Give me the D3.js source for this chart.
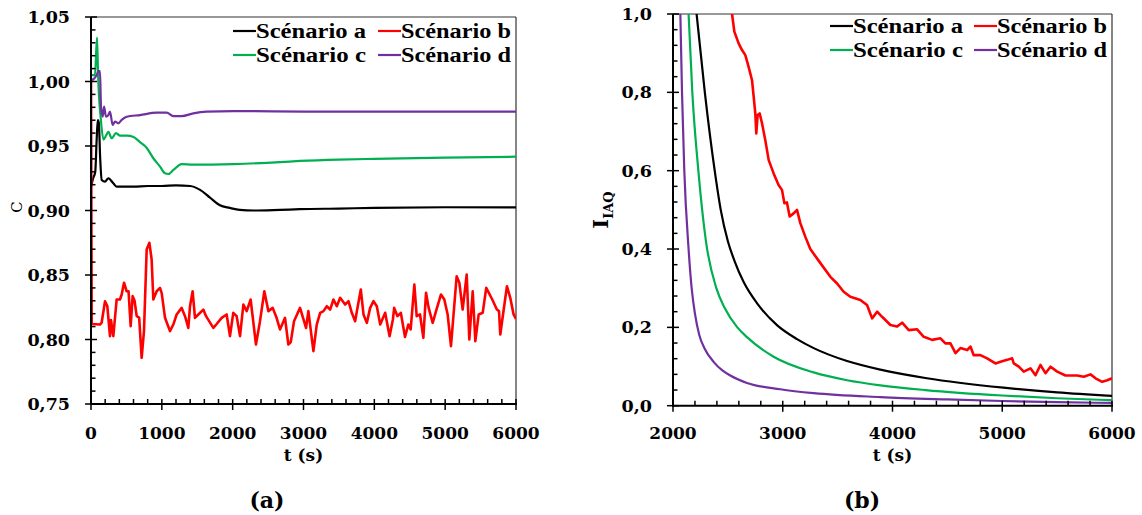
<!DOCTYPE html>
<html><head><meta charset="utf-8">
<script src="https://cdn.jsdelivr.net/npm/d3@7"></script>
<style>body{margin:0;background:#fff}svg{display:block}</style>
</head><body>
<svg id="chart" width="1142" height="515"></svg>
<script>
// ---------- DATA ----------
const seriesNames = ["Scénario a", "Scénario b", "Scénario c", "Scénario d"];
const seriesColors = ["#000000", "#ff0000", "#00b050", "#7030a0"];

// Panel (a): C vs t
const timeA = [0,30,60,80,95,110,130,151,198,245,315,362,400,600,800,1000,1200,1400,1540,1680,1820,1960,2100,2300,2670,2950,3500,4000,5000,6000];
const cA    = [0.918,0.925,0.930,0.955,0.970,0.968,0.940,0.9237,0.9224,0.925,0.9211,0.9185,0.9185,0.9185,0.919,0.919,0.9195,0.919,0.916,0.910,0.904,0.902,0.9005,0.900,0.9005,0.901,0.9015,0.902,0.9025,0.9025];

const timeB = [0,10,127,150,198,230,268,282,315,362,409,433,466,503,530,560,588,615,645,680,715,748,786,824,856,880,927,974,998,1045,1115,1162,1209,1280,1327,1374,1398,1435,1468,1515,1586,1624,1727,1774,1845,1915,1962,2009,2056,2104,2151,2198,2254,2329,2386,2447,2504,2565,2620,2668,2739,2786,2820,2866,2951,3036,3069,3140,3187,3235,3282,3329,3376,3423,3470,3517,3588,3635,3682,3729,3762,3809,3847,3894,3941,3988,4035,4083,4153,4215,4262,4280,4327,4374,4433,4480,4513,4565,4598,4645,4692,4730,4767,4824,4871,4941,4988,5035,5082,5162,5200,5247,5304,5341,5389,5426,5473,5530,5580,5665,5730,5760,5778,5872,5919,5966,6000];
const cB    = [1.0,0.812,0.8116,0.813,0.8297,0.826,0.8026,0.815,0.8026,0.831,0.831,0.8349,0.844,0.8374,0.8374,0.8103,0.8336,0.830,0.8181,0.817,0.7858,0.8065,0.8697,0.875,0.862,0.831,0.8374,0.840,0.836,0.8168,0.8065,0.8116,0.8194,0.8245,0.8181,0.809,0.826,0.8374,0.8168,0.8194,0.8232,0.8181,0.809,0.812,0.8168,0.8194,0.8026,0.8207,0.8181,0.8026,0.8271,0.822,0.831,0.7961,0.8142,0.8374,0.822,0.8245,0.8168,0.8078,0.8168,0.7961,0.798,0.8142,0.8245,0.809,0.822,0.791,0.8116,0.8207,0.822,0.8258,0.8232,0.831,0.8258,0.8323,0.8271,0.8297,0.8207,0.8142,0.8245,0.8388,0.8194,0.8129,0.8245,0.8297,0.8258,0.8116,0.8207,0.8026,0.8155,0.8245,0.8181,0.8207,0.802,0.8116,0.8078,0.8426,0.8181,0.8194,0.8013,0.8362,0.8245,0.8129,0.822,0.8349,0.831,0.8194,0.7948,0.849,0.844,0.8232,0.8504,0.800,0.8374,0.7987,0.8194,0.8207,0.840,0.831,0.8232,0.822,0.8039,0.8413,0.8323,0.8194,0.816];

const timeC = [0,56,85,100,140,175,212,245,292,353,410,505,600,692,787,880,975,1045,1092,1163,1280,1445,2010,2670,2950,3500,4000,5000,6000];
const cC    = [1.005,1.005,1.034,1.005,0.970,0.955,0.958,0.961,0.956,0.960,0.958,0.958,0.957,0.953,0.9485,0.9405,0.934,0.9288,0.9283,0.9314,0.936,0.9355,0.936,0.9375,0.9384,0.9395,0.940,0.941,0.9417];

const timeD = [0,40,80,105,127,141,165,184,212,245,268,306,339,386,433,504,692,927,1068,1162,1280,1444,1633,2009,3000,4000,5000,6000];
const cD    = [1.001,1.002,1.005,1.008,1.008,0.9805,0.9727,0.9805,0.9727,0.974,0.9766,0.9663,0.9689,0.9676,0.9702,0.9727,0.974,0.9758,0.9758,0.9732,0.9732,0.9753,0.9766,0.9771,0.9767,0.9766,0.9766,0.9766];

// Panel (b): I_IAQ vs t
const iTimeA = [2215,2290,2380,2435,2500,2560,2645,2770,2950,3130,3282,3586,3890,4313,5011,5500,6000];
const iqA    = [1.0,0.8,0.6,0.5,0.42,0.37,0.315,0.26,0.205,0.17,0.147,0.114,0.092,0.07,0.046,0.034,0.025];

const iTimeB = [2538,2559,2598,2629,2659,2689,2720,2735,2750,2759,2771,2790,2811,2841,2872,2917,2963,2993,3015,3038,3063,3099,3130,3160,3206,3251,3343,3434,3495,3555,3616,3707,3768,3814,3860,3905,3981,4042,4088,4148,4224,4285,4361,4437,4482,4528,4574,4619,4680,4710,4740,4801,4862,4938,4984,5045,5090,5105,5151,5196,5257,5303,5348,5394,5440,5501,5576,5683,5743,5804,5850,5911,5957,6000];
const iqB    = [1.0,0.955,0.925,0.908,0.895,0.865,0.831,0.789,0.746,0.695,0.742,0.746,0.721,0.678,0.627,0.593,0.563,0.551,0.517,0.519,0.483,0.491,0.500,0.466,0.431,0.400,0.364,0.329,0.312,0.291,0.278,0.270,0.257,0.223,0.240,0.227,0.206,0.202,0.212,0.193,0.195,0.176,0.168,0.172,0.159,0.159,0.134,0.147,0.142,0.151,0.129,0.129,0.121,0.108,0.112,0.117,0.121,0.108,0.0996,0.087,0.0955,0.078,0.104,0.083,0.0996,0.087,0.077,0.077,0.074,0.080,0.070,0.061,0.065,0.070];

const iTimeC = [2142,2176,2231,2300,2395,2470,2586,2674,2917,3282,3586,3890,4300,5000,5500,6000];
const iqC    = [1.0,0.8,0.6,0.42,0.3,0.25,0.2,0.175,0.125,0.085,0.065,0.052,0.040,0.026,0.019,0.014];

const iTimeD = [2067,2082,2103,2142,2170,2200,2240,2290,2370,2450,2522,2674,2978,3282,3890,4500,5000,5500,6000];
const iqD    = [1.0,0.8,0.6,0.4,0.3,0.235,0.18,0.145,0.112,0.09,0.077,0.058,0.042,0.032,0.022,0.016,0.012,0.009,0.007];

const ticksXa = [0,1000,2000,3000,4000,5000,6000];
const ticksYa = [0.75,0.80,0.85,0.90,0.95,1.00,1.05];
const ticksXb = [2000,3000,4000,5000,6000];
const ticksYb = [0.0,0.2,0.4,0.6,0.8,1.0];

// ---------- DRAW ----------
const svg = d3.select("#chart");
const tickFont = "'DejaVu Serif', serif";
const legFont = "'Liberation Serif', 'Times New Roman', serif";
const fmtComma = d => d.toFixed(2).replace(".", ",");
const fmtComma1 = d => d.toFixed(1).replace(".", ",");

function panel(cfg) {
  const {x, y, id} = cfg;
  const g = svg.append("g");
  const [x0, x1] = x.range();
  const [yb, yt] = y.range();

  g.append("clipPath").attr("id", id).append("rect")
    .attr("x", x0).attr("y", yt).attr("width", x1 - x0).attr("height", yb - yt);

  // box top/right
  g.append("line").attr("x1", x0).attr("x2", x1).attr("y1", yt).attr("y2", yt)
    .attr("stroke", "#333").attr("stroke-width", 1.2);
  g.append("line").attr("x1", x1).attr("x2", x1).attr("y1", yt).attr("y2", yb)
    .attr("stroke", "#333").attr("stroke-width", 1.2);

  // series
  cfg.series.forEach((s) => {
    const line = d3.line().x(d => x(d[0])).y(d => y(d[1]))
      .curve(s.smooth ? d3.curveMonotoneX : d3.curveLinear);
    const pts = s.t.map((t, k) => [t, s.v[k]]);
    g.append("path").attr("d", line(pts)).attr("fill", "none")
      .attr("stroke", seriesColors[s.c]).attr("stroke-width", s.w)
      .attr("stroke-linejoin", "round").attr("clip-path", `url(#${id})`);
  });

  // x ticks
  const xMinor = d3.range(x.domain()[0], x.domain()[1] + 1, 200);
  xMinor.forEach(v => {
    const major = cfg.xTicks.includes(v);
    g.append("line").attr("x1", x(v)).attr("x2", x(v))
      .attr("y1", yb - 5).attr("y2", yb + (major ? 6 : 0))
      .attr("stroke", "#000").attr("stroke-width", 1.5);
  });
  // y ticks
  const yMinor = d3.range(0, Math.round((y.domain()[1] - y.domain()[0]) / cfg.yMinorStep) + 1)
    .map(k => y.domain()[0] + k * cfg.yMinorStep);
  yMinor.forEach(v => {
    const major = cfg.yTicks.some(t => Math.abs(t - v) < 1e-6);
    g.append("line").attr("x1", x0 - (major ? 6 : 0)).attr("x2", x0 + (major ? 6 : 4.5))
      .attr("y1", y(v)).attr("y2", y(v))
      .attr("stroke", "#000").attr("stroke-width", 1.5);
  });

  // axis lines
  g.append("line").attr("x1", x0).attr("x2", x0).attr("y1", yt).attr("y2", yb + 1)
    .attr("stroke", "#000").attr("stroke-width", 2);
  g.append("line").attr("x1", x0 - 1).attr("x2", x1 + 1).attr("y1", yb).attr("y2", yb)
    .attr("stroke", "#000").attr("stroke-width", 2);

  // tick labels
  g.selectAll(".xl").data(cfg.xTicks).join("text")
    .attr("x", d => x(d)).attr("y", 439).attr("text-anchor", "middle")
    .attr("font-family", tickFont).attr("font-weight", "bold").attr("font-size", 17)
    .text(d => d);
  g.selectAll(".yl").data(cfg.yTicks).join("text")
    .attr("x", x0 - 21).attr("y", d => y(d) + 6).attr("text-anchor", "end")
    .attr("font-family", tickFont).attr("font-weight", "bold").attr("font-size", 17.5)
    .text(cfg.yFmt);

  // x title
  g.append("text").attr("x", (x0 + x1) / 2).attr("y", 461).attr("text-anchor", "middle")
    .attr("font-family", tickFont).attr("font-weight", "bold").attr("font-size", 17)
    .text("t (s)");
  // panel label
  g.append("text").attr("x", cfg.labelX).attr("y", 508).attr("text-anchor", "middle")
    .attr("font-family", tickFont).attr("font-weight", "bold").attr("font-size", 22)
    .text(cfg.label);

  // legend
  [0, 1, 2, 3].forEach(i => {
    const col = i % 2, row = Math.floor(i / 2);
    const lx = cfg.legX[col], ly = cfg.legY[row];
    g.append("line").attr("x1", lx).attr("x2", lx + 23).attr("y1", ly - 7).attr("y2", ly - 7)
      .attr("stroke", seriesColors[i]).attr("stroke-width", 2.2);
    g.append("text").attr("x", lx + 23).attr("y", ly)
      .attr("font-family", legFont).attr("font-weight", "bold").attr("font-size", 20)
      .attr("textLength", 110).attr("lengthAdjust", "spacingAndGlyphs")
      .text(seriesNames[i]);
  });
  return g;
}

const xa = d3.scaleLinear().domain([0, 6000]).range([91, 516]);
const ya = d3.scaleLinear().domain([0.75, 1.05]).range([404, 17]);
const ga = panel({
  id: "clipA", x: xa, y: ya, xTicks: ticksXa, yTicks: ticksYa, yMinorStep: 0.01, yFmt: fmtComma,
  label: "(a)", labelX: 267, legX: [233, 378], legY: [38, 62],
  series: [
    {t: timeA, v: cA, c: 0, w: 2.2, smooth: true},
    {t: timeC, v: cC, c: 2, w: 2.2, smooth: true},
    {t: timeD, v: cD, c: 3, w: 2.2, smooth: true},
    {t: timeB, v: cB, c: 1, w: 2.6}
  ]
});
ga.append("text").attr("transform", "translate(22,207) rotate(-90)").attr("text-anchor", "middle")
  .attr("font-family", tickFont).attr("font-size", 15).text("C");

const xb = d3.scaleLinear().domain([2000, 6000]).range([673, 1112]);
const yb = d3.scaleLinear().domain([0, 1]).range([405.7, 14]);
const gb = panel({
  id: "clipB", x: xb, y: yb, xTicks: ticksXb, yTicks: ticksYb, yMinorStep: 0.04, yFmt: fmtComma1,
  label: "(b)", labelX: 862, legX: [830, 974], legY: [33, 57],
  series: [
    {t: iTimeA, v: iqA, c: 0, w: 2.2, smooth: true},
    {t: iTimeC, v: iqC, c: 2, w: 2.2, smooth: true},
    {t: iTimeD, v: iqD, c: 3, w: 2.2, smooth: true},
    {t: iTimeB, v: iqB, c: 1, w: 2.6}
  ]
});
const yt = gb.append("text").attr("transform", "translate(608,210) rotate(-90)").attr("text-anchor", "middle")
  .attr("font-family", tickFont).attr("font-weight", "bold");
yt.append("tspan").attr("font-size", 21).text("I");
yt.append("tspan").attr("font-size", 13).attr("dy", 5).text("IAQ");
</script>
</body></html>
